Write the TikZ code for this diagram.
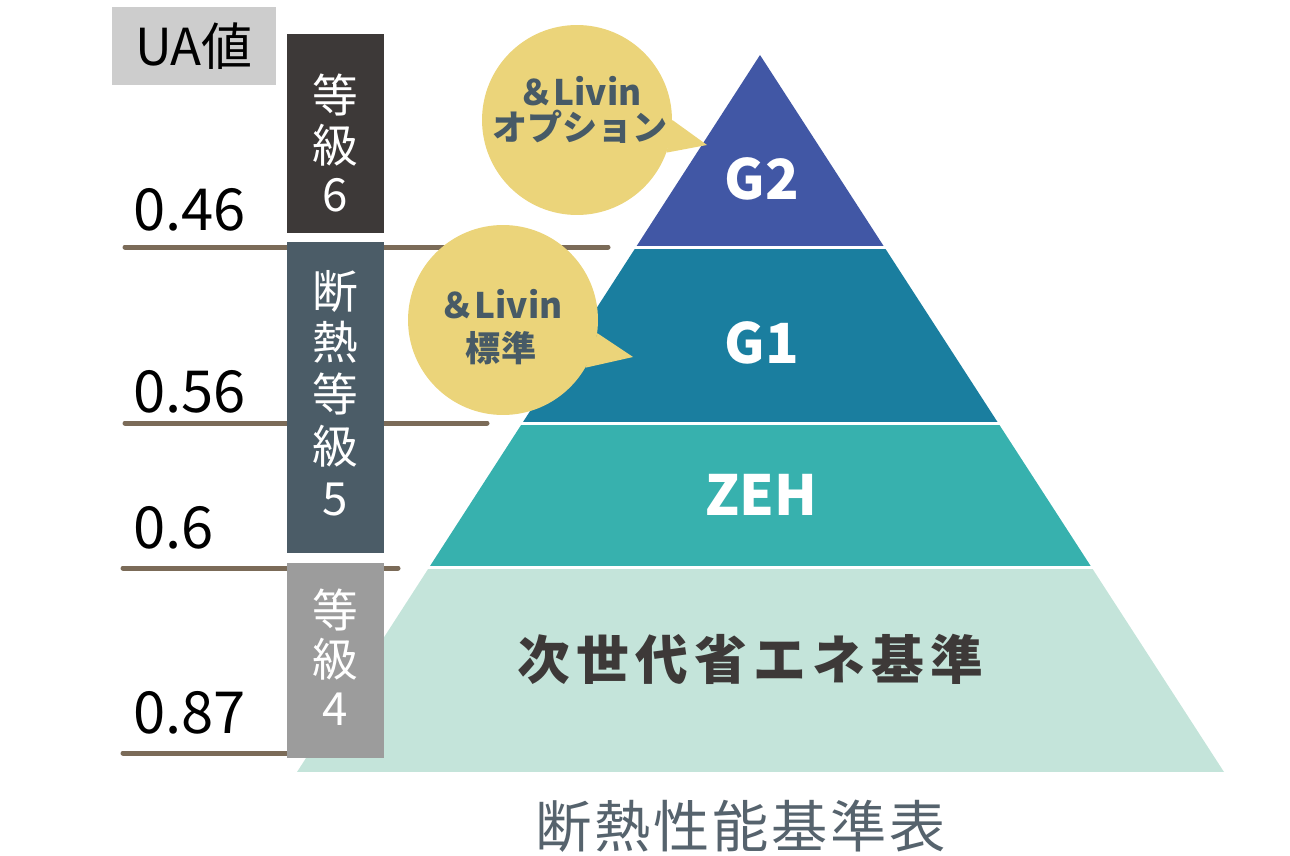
\documentclass[tikz,border=0pt]{standalone}
\usepackage{fontspec}
\setmainfont{Noto Sans CJK JP}
\usepackage{tikz}
\usetikzlibrary{shapes.geometric}

\definecolor{gtwo}{HTML}{4157A5}
\definecolor{gone}{HTML}{1A7E9F}
\definecolor{zehcol}{HTML}{37B1AE}
\definecolor{jisedai}{HTML}{C4E4DA}
\definecolor{bubbleyellow}{HTML}{EBD47A}
\definecolor{bubbletext}{HTML}{475A66}
\definecolor{gradesix}{HTML}{3D3938}
\definecolor{gradefive}{HTML}{4B5C67}
\definecolor{gradefour}{HTML}{9C9C9C}
\definecolor{uabox}{HTML}{CDCDCD}
\definecolor{ualine}{HTML}{7B6B58}
\definecolor{captioncol}{HTML}{56636D}

\tikzset{
  ualevel/.style={line width=0.1cm, line cap=round, color=ualine},
  uanum/.style={anchor=west, inner sep=0pt, color=black, font=\fontsize{33}{33}\selectfont},
  gradebox/.style={inner sep=0pt, minimum width=1.94cm},
  gradetext/.style={color=white, align=center, inner sep=0pt, font=\fontsize{26}{28}\selectfont},
  bubble/.style={circle, fill=bubbleyellow, minimum size=3.8cm, inner sep=0pt},
  bubblelabel/.style={color=bubbletext, align=center, inner sep=0pt, font=\bfseries\fontsize{20}{20}\selectfont},
  layerlabel/.style={color=white, inner sep=0pt, font=\bfseries\fontsize{31.5}{31.5}\selectfont},
}

\begin{document}
\begin{tikzpicture}[x=0.02cm, y=-0.02cm]
\useasboundingbox (0,0) rectangle (1290,855);

% UA value levels
\draw [ualevel] (125,247) -- (608,247);
\draw [ualevel] (125,423) -- (487,423);
\draw [ualevel] (123,568) -- (398,568);
\draw [ualevel] (123,753) -- (300,753);
\node [uanum] (ua046) at (133,210) {0.46};
\node [uanum] (ua056) at (133,392) {0.56};
\node [uanum] (ua06) at (133,528) {0.6};
\node [uanum] (ua087) at (133,713) {0.87};

% pyramid
\begin{scope}
\clip (760,55) -- (1224,772) -- (297,772) -- cycle;
\fill [gtwo] (250,40) rectangle (1250,246);
\fill [gone] (250,249) rectangle (1250,422);
\fill [zehcol] (250,425) rectangle (1250,566);
\fill [jisedai] (250,569) rectangle (1250,772);
\end{scope}
\node [layerlabel] (g2) at (762,179) {G2};
\node [layerlabel] (g1) at (762,343) {G1};
\node [layerlabel] (zeh) at (761,495) {ZEH};
\node [inner sep=0pt, color=gradesix, font=\bfseries\fontsize{30}{30}\selectfont\addfontfeatures{LetterSpace=12}] (jisedaitext) at (750,659) {次世代省エネ基準};

% grade boxes
\node [fill=uabox, inner sep=0pt, minimum width=3.28cm, minimum height=1.56cm, font=\fontsize{29}{29}\selectfont] (ua) at (194,46) {UA値};
\node [gradebox, fill=gradesix, minimum height=3.98cm] (grade6) at (335.5,133.5) {};
\node [gradebox, fill=gradefive, minimum height=6.22cm] (grade5) at (335.5,397.5) {};
\node [gradebox, fill=gradefour, minimum height=3.9cm] (grade4) at (335.5,660.5) {};
\node [gradetext] (grade6text) at (335.5,143) {等\\級\\6};
\node [gradetext, font=\fontsize{26}{29.5}\selectfont] (grade5text) at (335.5,393) {断\\熱\\等\\級\\5};
\node [gradetext] (grade4text) at (335.5,657) {等\\級\\4};

% speech bubbles
\node [bubble] (option) at (577,120) {};
\coordinate (optiontip) at (707,145);
\fill [bubbleyellow] (option.0) -- (optiontip) -- (option.-20) -- cycle;
\node [bubblelabel] (optiontext) at (580,110) {＆Livin\\オプション};

\node [bubble] (standard) at (503,320) {};
\coordinate (standardtip) at (633,357);
\fill [bubbleyellow] (standard.-8) -- (standardtip) -- (standard.-30) -- cycle;
\node [bubblelabel, font=\bfseries\fontsize{20}{24.5}\selectfont] (standardtext) at (501,327) {＆Livin\\標準};

\node [inner sep=0pt, color=captioncol, font=\fontsize{32}{32}\selectfont\addfontfeatures{LetterSpace=5}] (caption) at (741,826) {断熱性能基準表};
\end{tikzpicture}
\end{document}
